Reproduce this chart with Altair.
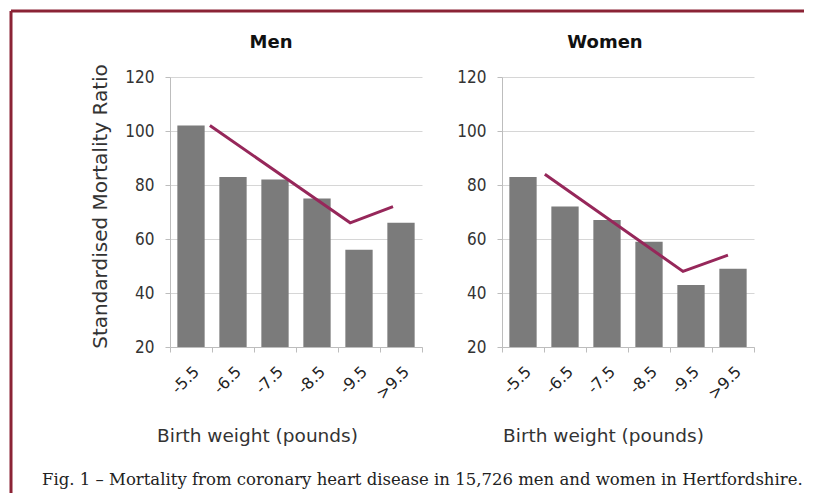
import altair as alt
import pandas as pd

categories = ["-5.5", "-6.5", "-7.5", "-8.5", "-9.5", ">9.5"]
men_smr = [102, 83, 82, 75, 56, 66]
women_smr = [83, 72, 67, 59, 43, 49]
# trend line vertices: position in category units (0 = left edge of first band), SMR value
men_line_pos = [0.95, 4.29, 5.31]
men_line_smr = [102, 66, 72]
women_line_pos = [1.02, 4.31, 5.38]
women_line_smr = [84, 48, 54]
band_edges = [0, 1, 2, 3, 4, 5, 6]
y_ticks = [20, 40, 60, 80, 100, 120]
caption = "Fig. 1 \u2013 Mortality from coronary heart disease in 15,726 men and women in Hertfordshire."

W, H = 252, 270
BAR = "#7b7b7b"
LINE = "#96275a"
GRID = "#d6d6d6"
AXIS = "#bdbdbd"
FRAME = "#8b2335"
FONT = "DejaVu Sans"
FONT_C = "DejaVu Sans Condensed"

one = alt.Data(values=[{"k": 0}])


def panel(name, smr, lpos, lsmr, ytitle, title_x, xtitle_x, extra=()):
    bars_df = pd.DataFrame({"Birth weight": categories, "SMR": smr})
    line_df = pd.DataFrame({"pos": lpos, "SMR": lsmr})
    yscale = alt.Scale(domain=[20, 120], nice=False, zero=False)
    yaxis = alt.Axis(
        values=y_ticks, title=ytitle, titleX=-70, titleY=129, titleAngle=-90,
        titleAlign="center", titleBaseline="middle", titleFont=FONT,
        titleFontSize=20, titleFontWeight="normal", titleColor="#333",
        labelFont=FONT_C, labelFontSize=17, labelColor="#333", labelPadding=11,
        tickSize=5, tickColor=AXIS, domainColor=AXIS, gridColor=GRID,
    )
    bars = alt.Chart(bars_df).mark_bar(color=BAR).encode(
        x=alt.X(
            "Birth weight:N", sort=categories,
            scale=alt.Scale(paddingInner=0.35, paddingOuter=0.175),
            axis=alt.Axis(
                orient="bottom", labelAngle=-45, ticks=False, tickSize=0,
                domain=False, grid=False, labelFont=FONT, labelFontSize=16,
                labelColor="#222", labelPadding=16, title="Birth weight (pounds)",
                titleX=xtitle_x, titleY=88, titleAlign="center",
                titleBaseline="middle", titleFont=FONT, titleFontSize=18.5,
                titleFontWeight="normal", titleColor="#333",
            ),
        ),
        y=alt.Y("SMR:Q", scale=yscale, axis=yaxis),
        y2=alt.datum(20),
    )
    line = alt.Chart(line_df).mark_line(color=LINE, strokeWidth=3).encode(
        x=alt.X(
            "pos:Q", scale=alt.Scale(domain=[0, 6], nice=False, zero=False),
            axis=alt.Axis(
                orient="bottom", values=band_edges, labels=False, grid=False,
                ticks=True, tickSize=5, tickColor=AXIS, domain=True,
                domainColor=AXIS, title="",
            ),
        ),
        y=alt.Y("SMR:Q", scale=yscale, axis=yaxis),
    )
    head = alt.Chart(one).mark_text(
        align="center", baseline="middle", font=FONT, fontSize=18,
        fontWeight="bold", color="#111",
    ).encode(x=alt.value(title_x), y=alt.value(-34), text=alt.value(name))
    return alt.layer(bars, line, head, *extra).resolve_scale(
        x="independent"
    ).properties(width=W, height=H)


frame_top = alt.Chart(one).mark_rule(stroke=FRAME, strokeWidth=3).encode(
    x=alt.value(-159), x2=alt.value(634), y=alt.value(-66)
)
frame_left = alt.Chart(one).mark_rule(stroke=FRAME, strokeWidth=3).encode(
    x=alt.value(-159), y=alt.value(-66), y2=alt.value(416)
)
cap = alt.Chart(one).mark_text(
    align="left", baseline="middle", font="DejaVu Serif", fontSize=16.5, color="#222"
).encode(x=alt.value(-128), y=alt.value(403), text=alt.value(caption))

men = panel("Men", men_smr, men_line_pos, men_line_smr,
            "Standardised Mortality Ratio", 101, 87,
            extra=(frame_top, frame_left, cap))
women = panel("Women", women_smr, women_line_pos, women_line_smr,
              "", 103, 101)

chart = alt.hconcat(men, women, spacing=80, bounds="flush").properties(
    padding={"left": 1, "top": 1, "right": 0, "bottom": 0},
    background="white",
).configure_view(strokeWidth=0)

chart.save("out.html", embed_options={"renderer": "svg", "actions": False})
